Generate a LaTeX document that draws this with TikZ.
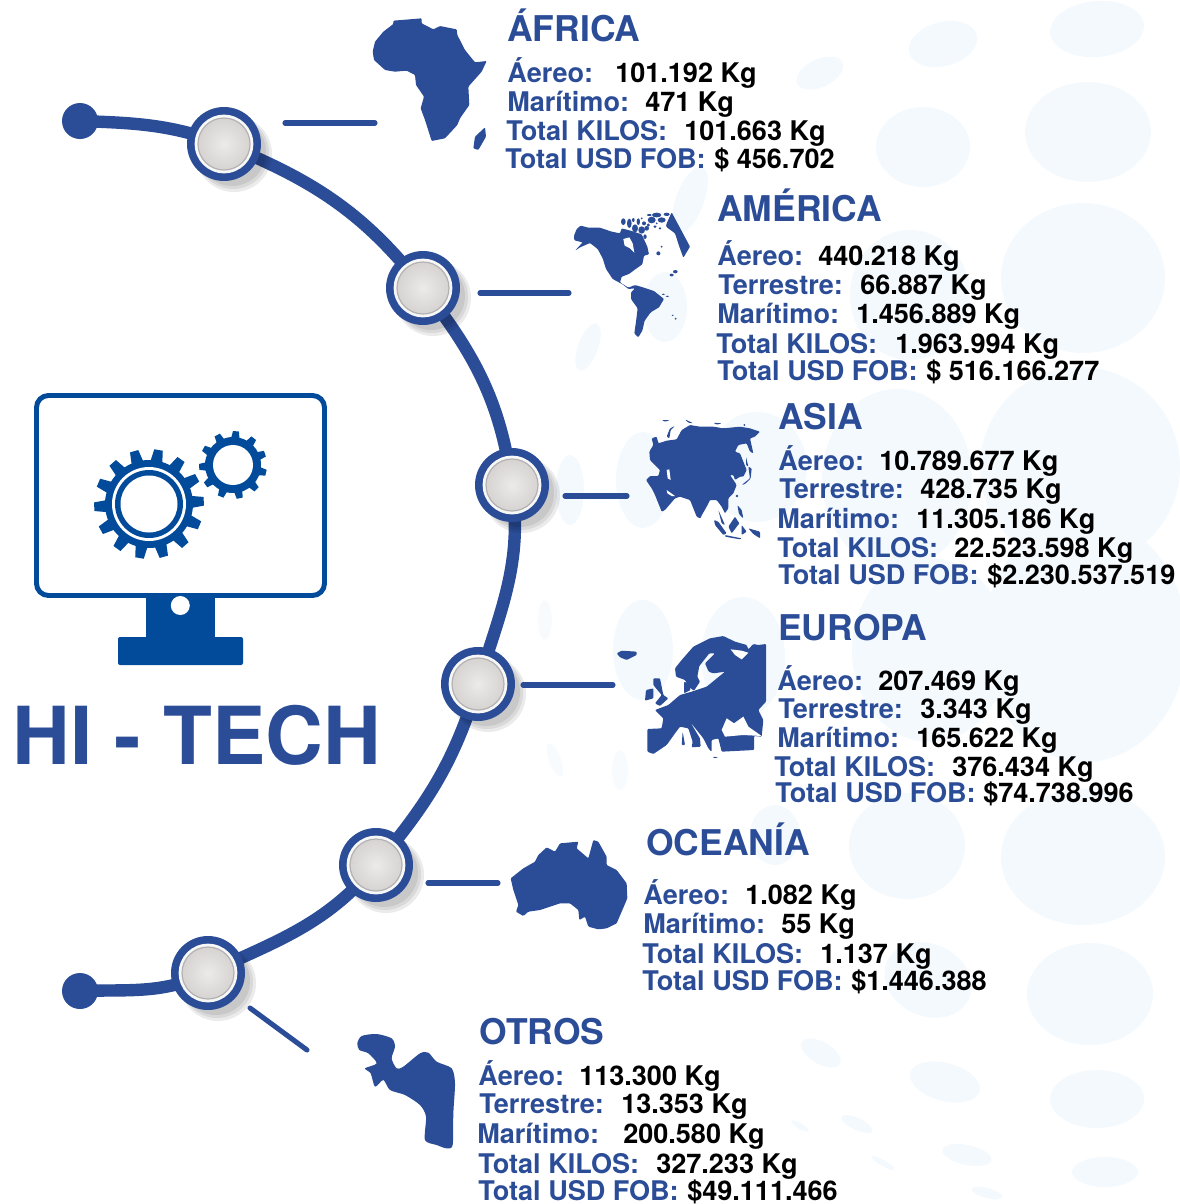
\documentclass[tikz,border=0pt]{standalone}
\usepackage{fontspec}
\setmainfont{TeX Gyre Heros}
\definecolor{hiblue}{HTML}{2B4C97}
\definecolor{monblue}{HTML}{024B9A}
\definecolor{bubble}{HTML}{F4F9FD}
\definecolor{discin}{HTML}{ECEBEA}
\definecolor{discout}{HTML}{D6D3D1}
\tikzset{
  arcline/.style={draw=hiblue,line width=9.3pt},
  leader/.style={draw=hiblue,line width=3.8pt,line cap=round},
  ringnode/.style={circle,fill=hiblue,minimum size=55.5pt,inner sep=0pt},
  capnode/.style={circle,fill=white!94!gray,minimum size=44pt,inner sep=0pt},
  discnode/.style={circle,draw=black!30,line width=.9pt,inner color=discin,outer color=discout,minimum size=39pt,inner sep=0pt},
  dotnode/.style={circle,fill=hiblue,minimum size=27pt,inner sep=0pt},
  region/.style={anchor=base west,inner sep=0pt,xshift=-.75pt,text=hiblue,font=\fontsize{26.6}{30}\selectfont\bfseries},
  rowlabel/.style={anchor=base west,inner sep=0pt,xshift=-.75pt,text=hiblue,font=\fontsize{20.3}{24}\selectfont\bfseries},
  rowvalue/.style={anchor=base west,inner sep=0pt,text=black,font=\fontsize{20.3}{24}\selectfont\bfseries},
  land/.style={fill=hiblue,draw=none,rounded corners=.7pt},
  bub/.style={fill=bubble,draw=none},
  zoomA/.style={shift={(350,0)},x=.25pt,y=-.25pt},
  zoomC/.style={shift={(340,820)},x=.25pt,y=-.25pt},
  zoomD/.style={shift={(570,205)},x=.25pt,y=-.25pt},
  zoomE/.style={shift={(640,410)},x=.25pt,y=-.25pt},
  zoomF/.style={shift={(610,630)},x=.25pt,y=-.25pt},
}
\newcommand{\datarow}[6]{%
  \node[rowlabel] (#1l) at (#2,#3) {#4};
  \node[rowvalue] (#1v) at (#5,#3) {#6};}
\newcommand{\hitgear}[8]{% cx cy rbody rtip a0 n dbase dtip
  \fill[monblue] (#1,#2) circle[radius=#3];
  \foreach \k in {1,...,#6}{
    \pgfmathsetmacro{\ang}{#5+(\k-1)*360/#6}
    \fill[monblue]
      ({#1+(#3-1)*cos(\ang-#7)},{#2-(#3-1)*sin(\ang-#7)}) --
      ({#1+#4*cos(\ang-#8)},{#2-#4*sin(\ang-#8)}) --
      ({#1+#4*cos(\ang+#8)},{#2-#4*sin(\ang+#8)}) --
      ({#1+(#3-1)*cos(\ang+#7)},{#2-(#3-1)*sin(\ang+#7)}) -- cycle;
  }}
\begin{document}
\begin{tikzpicture}[x=.75pt,y=-.75pt]
\useasboundingbox (0,0) rectangle (1179,1204);
% background bubbles
\foreach \x/\y/\a/\b/\r in {1097/29/47/28/5,943/44/35/22/15,820/73/25/14/25,1088/132/63/50/0,923/147/47/40/0,
  1083/278/82/75/0,910/295/60/65/0,1080/467/100/100/0,897/479/75/90/0,1085/640/102/122/0,930/650/78/92/0,
  907/846/58/53/0,1083/857/82/68/0,1090/994/63/51/0,928/980/45/36/-25,821/1053/22/11/-30,945/1082/36/19/-15,
  1097/1099/47/29/0,857/1124/17/6/-25,967/1155/25/10/-12,1105/1172/33/15/0,987/1193/16/5/-15,883/1163/13/3/-30,
  800/1126/10/3/-30,775/835/25/30/0,
  570/490/14/35/0,643/480/27/48/0,757/467/50/55/0,643/650/30/50/0,743/657/42/60/0,665/307/22/35/0,
  588/347/10/25/-20,690/200/14/35/-20}{
  \fill[bub] (\x,\y) ellipse [x radius=\a,y radius=\b,rotate=\r];
}
\foreach \x/\y/\a/\b/\r in {545/620/7/20/0,555/760/6/18/20,620/770/8/20/0}{
  \fill[bub,opacity=.6] (\x,\y) ellipse [x radius=\a,y radius=\b,rotate=\r];
}
% arc
\node[dotnode] (dA) at (80,121) {};
\node[dotnode] (dB) at (80,991) {};
\coordinate (c1p) at (224,144);
\coordinate (c2p) at (423,288);
\coordinate (c3p) at (512,485);
\coordinate (c4p) at (478,684);
\coordinate (c5p) at (376,865);
\coordinate (c6p) at (208,973);
\draw[arcline] (dA.center) to[out=-2,in=160] (c1p) to[out=-22,in=128] (c2p) to[out=-52,in=98] (c3p)
  to[out=-82,in=73] (c4p) to[out=-107,in=50] (c5p) to[out=-130,in=25] (c6p) to[out=-155,in=2] (dB.center);
% circles
\foreach \n/\cx/\cy in {1/224/144,2/423/288,3/512/485,4/478/684,5/376/865,6/208/973}{
  \fill[black,opacity=.08] (\cx+10,\cy+10) circle[radius=38];
  \fill[black,opacity=.08] (\cx+9,\cy+9) circle[radius=36];
  \fill[black,opacity=.08] (\cx+8,\cy+8) circle[radius=34];
}
\foreach \n/\pt in {1/c1p,2/c2p,3/c3p,4/c4p,5/c5p,6/c6p}{
  \node[ringnode] (r\n) at (\pt) {};
  \node[capnode] (k\n) at (\pt) {};
  \node[discnode] (c\n) at (\pt) {};
}
% leaders
\coordinate (l1a) at (285,123); \coordinate (l1b) at (375,123);
\coordinate (l2a) at (480,293); \coordinate (l2b) at (569,293);
\coordinate (l3a) at (565,496); \coordinate (l3b) at (627,496);
\coordinate (l4a) at (523,685); \coordinate (l4b) at (613,685);
\coordinate (l5a) at (428,883); \coordinate (l5b) at (498,883);
\coordinate (l6a) at (250,1008); \coordinate (l6b) at (307,1050);
\foreach \n in {1,...,6}{\draw[leader] (l\n a) -- (l\n b);}
% monitor
\draw[monblue,line width=3.7pt,rounded corners=9pt,fill=white] (36.5,395.5) rectangle (324.5,595.5);
\fill[monblue] (146,598) rectangle (215,640);
\fill[monblue,rounded corners=1.5pt] (118,637) rectangle (243,665);
\fill[white] (180.3,605.5) circle[radius=9.5];
\hitgear{149}{504}{44}{55}{80}{14}{8}{4.5}
\fill[white] (149,504) circle[radius=37];
\fill[monblue] (149,504) circle[radius=34];
\fill[white] (149,504) circle[radius=28.5];
\hitgear{233}{465}{28}{34}{85}{11}{9}{5}
\fill[white] (233,465) circle[radius=20];
\node[anchor=base west,inner sep=0pt,text=hiblue,font=\fontsize{60}{66}\selectfont\bfseries] (title) at (12,764) {HI - TECH};
% Africa
\begin{scope}[zoomA]
\fill[land] (130,62)--(215,55)--(215,70)--(250,88)--(270,78)--(320,88)--(322,105)--(345,150)--(375,187)--(410,183)--(395,215)--(355,260)--(358,315)--(330,355)--(322,375)--(285,415)--(245,423)--(225,360)--(212,325)--(222,290)--(198,255)--(195,225)--(170,212)--(135,215)--(105,210)--(72,180)--(68,155)--(75,125)--(100,95)--(130,72)--cycle;
\fill[land] (405,382)--(408,410)--(385,450)--(370,445)--(375,410)--cycle;
\end{scope}
% America
\begin{scope}[zoomD]
\fill[land] (12,92)--(20,72)--(32,62)--(55,68)--(90,68)--(125,80)--(150,85)--(155,70)--(185,78)--(215,88)--(232,125)--(237,148)--(222,152)--(217,178)--(197,192)--(177,207)--(155,215)--(150,232)--(175,248)--(195,240)--(222,248)--(252,258)--(282,282)--(267,307)--(242,322)--(224,347)--(217,377)--(205,397)--(193,385)--(198,350)--(203,310)--(183,282)--(183,262)--(195,250)--(175,252)--(158,238)--(128,222)--(108,192)--(98,160)--(83,132)--(60,114)--(30,127)--(15,137)--(38,112)--(13,106)--cycle;
\fill[white] (160,102)--(178,97)--(188,115)--(193,143)--(180,130)--(164,122)--cycle;
\fill[land] (290,55)--(305,22)--(360,125)--(340,158)--(328,125)--(315,85)--(288,65)--cycle;
\foreach \x/\y/\a/\b in {160/50/7/10,178/55/7/14,195/70/9/12,215/75/10/11,230/70/7/7,245/45/12/10,260/30/14/7,275/45/12/8,238/30/7/3,290/28/9/5,205/50/5/10,225/95/5/7,170/85/5/5,270/70/4/4,260/55/3/3,265/145/6/6,275/125/3/3,190/45/4/6,222/55/6/6,235/60/5/5,255/65/5/4,215/40/3/3}{
  \fill[land] (\x,\y) ellipse [x radius=\a,y radius=\b];
}
\foreach \x/\y/\a/\b in {305/210/6/4,316/200/7/5,280/268/5/2,292/274/5/2,308/331/3/2,317/341/3/3}{
  \fill[land] (\x,\y) ellipse [x radius=\a,y radius=\b];
}
\end{scope}
% Asia
\begin{scope}[zoomE]
\fill[land] (35,85)--(50,80)--(55,100)--(80,92)--(110,88)--(125,60)--(150,45)--(180,50)--(220,50)--(250,55)--(300,50)--(330,55)--(360,65)--(345,80)--(330,85)--(340,130)--(330,125)--(320,100)--(295,105)--(285,125)--(300,130)--(310,155)--(320,180)--(310,200)--(300,200)--(285,210)--(280,195)--(270,195)--(290,225)--(280,250)--(265,265)--(265,295)--(255,310)--(245,290)--(230,270)--(210,270)--(200,290)--(180,325)--(170,320)--(150,270)--(120,260)--(105,265)--(75,300)--(65,305)--(45,255)--(35,235)--(18,210)--(30,198)--(55,198)--(60,180)--(30,150)--(28,125)--(40,105)--cycle;
\fill[white] (80,180)--(88,178)--(92,210)--(83,205)--cycle;
\fill[white] (80,240)--(105,258)--(95,258)--(82,250)--cycle;
\fill[land] (305,225)--(330,205)--(325,170)--(335,175)--(332,205)--(315,222)--cycle;
\fill[land] (318,140)--(325,170)--(318,165)--cycle;
\fill[land] (292,285)--(305,300)--(310,325)--(297,312)--cycle;
\fill[land] (222,330)--(235,335)--(260,370)--(250,375)--(225,345)--cycle;
\fill[land] (235,300)--(255,345)--(245,340)--cycle;
\fill[land] (255,375)--(305,385)--(300,388)--(255,380)--cycle;
\fill[land] (265,350)--(285,320)--(298,340)--(275,370)--cycle;
\fill[land] (305,345)--(320,365)--(305,375)--cycle;
\fill[land] (325,355)--(360,365)--(360,385)--(340,372)--cycle;
\fill[land] (65,30)--(90,30)--(75,35)--cycle;
\fill[land] (80,80)--(90,55)--(105,48)--(92,60)--(88,85)--cycle;
\fill[land] (135,28)--(160,40)--(145,38)--cycle;
\fill[land] (220,38)--(245,40)--(230,44)--cycle;
\fill[land] (291,258) circle[radius=4];
\fill[land] (180,320) circle[radius=4];
\fill[land] (313,45) circle[radius=3];
\end{scope}
% Europe
\begin{scope}[zoomF]
\fill[land] (195,115)--(215,90)--(250,50)--(300,25)--(340,18)--(375,35)--(410,45)--(415,58)--(430,42)--(445,45)--(468,42)--(468,215)--(445,240)--(460,270)--(455,320)--(432,318)--(432,360)--(335,365)--(325,325)--(305,330)--(305,365)--(295,355)--(280,325)--(240,275)--(270,325)--(272,350)--(245,352)--(248,335)--(235,295)--(210,290)--(195,310)--(170,345)--(130,372)--(112,365)--(112,297)--(155,295)--(160,265)--(135,240)--(175,225)--(210,195)--(245,185)--(290,170)--(345,125)--(310,130)--(296,125)--(285,100)--(315,70)--(298,70)--(268,108)--(262,140)--(270,155)--(252,182)--(235,170)--(225,150)--(198,140)--cycle;
\fill[white] (335,300)--(350,265)--(372,280)--(400,260)--(415,290)--(455,318)--(400,315)--(345,320)--cycle;
\fill[white] (362,58)--(395,62)--(415,68)--(395,88)--(375,75)--cycle;
\fill[land] (222,155)--(235,160)--(242,180)--(222,190)--cycle;
\fill[land] (130,145)--(150,145)--(160,195)--(175,205)--(150,228)--(135,220)--(155,195)--(130,165)--cycle;
\fill[land] (108,180)--(130,175)--(130,205)--(105,212)--cycle;
\fill[land] (20,70)--(35,62)--(80,65)--(80,75)--(50,90)--(30,82)--cycle;
\fill[land] (218,305)--(225,345)--(215,345)--cycle;
\fill[land] (308,380)--(325,382)--(312,385)--cycle;
\end{scope}
% Oceania and others
\begin{scope}[zoomC]
\fill[land] (512,175)--(550,145)--(585,125)--(595,105)--(620,82)--(645,95)--(660,70)--(715,65)--(710,85)--(745,115)--(760,60)--(775,65)--(800,110)--(800,135)--(830,150)--(860,190)--(862,235)--(845,275)--(830,310)--(800,325)--(775,328)--(745,320)--(735,290)--(718,300)--(715,270)--(690,250)--(660,250)--(600,270)--(565,275)--(550,288)--(528,275)--(535,255)--(520,210)--cycle;
\fill[hiblue] plot[smooth cycle,tension=.45] coordinates {(52,670)(65,648)(110,642)(155,655)(165,680)(155,715)(170,745)(190,740)(240,700)(265,698)(290,725)(335,745)(345,790)(340,880)(338,975)(320,985)(290,975)(255,960)(258,890)(240,855)(195,825)(150,810)(130,780)(105,800)(92,760)(75,745)(110,730)(85,700)(58,690)};
\end{scope}
% texts
\node[region] (tAf) at (508,41) {ÁFRICA};
\datarow{af1}{508}{82}{Áereo:}{615}{101.192 Kg}
\datarow{af2}{508}{111}{Marítimo:}{645}{471 Kg}
\datarow{af3}{507}{140}{Total KILOS:}{684}{101.663 Kg}
\datarow{af4}{506}{168}{Total USD FOB:}{714}{\$ 456.702}
\node[region] (tAm) at (718,221) {AMÉRICA};
\datarow{am1}{718}{265}{Áereo:}{818}{440.218 Kg}
\datarow{am2}{719}{294}{Terrestre:}{860}{66.887 Kg}
\datarow{am3}{718}{323}{Marítimo:}{856}{1.456.889 Kg}
\datarow{am4}{717}{353}{Total KILOS:}{895}{1.963.994 Kg}
\datarow{am5}{718}{380}{Total USD FOB:}{926}{\$ 516.166.277}
\node[region] (tAs) at (779,429) {ASIA};
\datarow{as1}{779}{470}{Áereo:}{879}{10.789.677 Kg}
\datarow{as2}{780}{498}{Terrestre:}{920}{428.735 Kg}
\datarow{as3}{778}{528}{Marítimo:}{916}{11.305.186 Kg}
\datarow{as4}{778}{557}{Total KILOS:}{954}{22.523.598 Kg}
\datarow{as5}{779}{584}{Total USD FOB:}{987}{\$2.230.537.519}
\node[region] (tEu) at (779,640) {EUROPA};
\datarow{eu1}{778}{690}{Áereo:}{878}{207.469 Kg}
\datarow{eu2}{779}{718}{Terrestre:}{920}{3.343 Kg}
\datarow{eu3}{778}{747}{Marítimo:}{916}{165.622 Kg}
\datarow{eu4}{775}{776}{Total KILOS:}{952}{376.434 Kg}
\datarow{eu5}{776}{802}{Total USD FOB:}{983}{\$74.738.996}
\node[region] (tOc) at (647,855) {OCEANÍA};
\datarow{oc1}{644}{904}{Áereo:}{745}{1.082 Kg}
\datarow{oc2}{644}{933}{Marítimo:}{781}{55 Kg}
\datarow{oc3}{643}{963}{Total KILOS:}{820}{1.137 Kg}
\datarow{oc4}{643}{990}{Total USD FOB:}{851}{\$1.446.388}
\node[region] (tOt) at (480,1044) {OTROS};
\datarow{ot1}{479}{1085}{Áereo:}{579}{113.300 Kg}
\datarow{ot2}{480}{1113}{Terrestre:}{621}{13.353 Kg}
\datarow{ot3}{478}{1143}{Marítimo:}{623}{200.580 Kg}
\datarow{ot4}{479}{1173}{Total KILOS:}{656}{327.233 Kg}
\datarow{ot5}{479}{1200}{Total USD FOB:}{687}{\$49.111.466}
\end{tikzpicture}
\end{document}
